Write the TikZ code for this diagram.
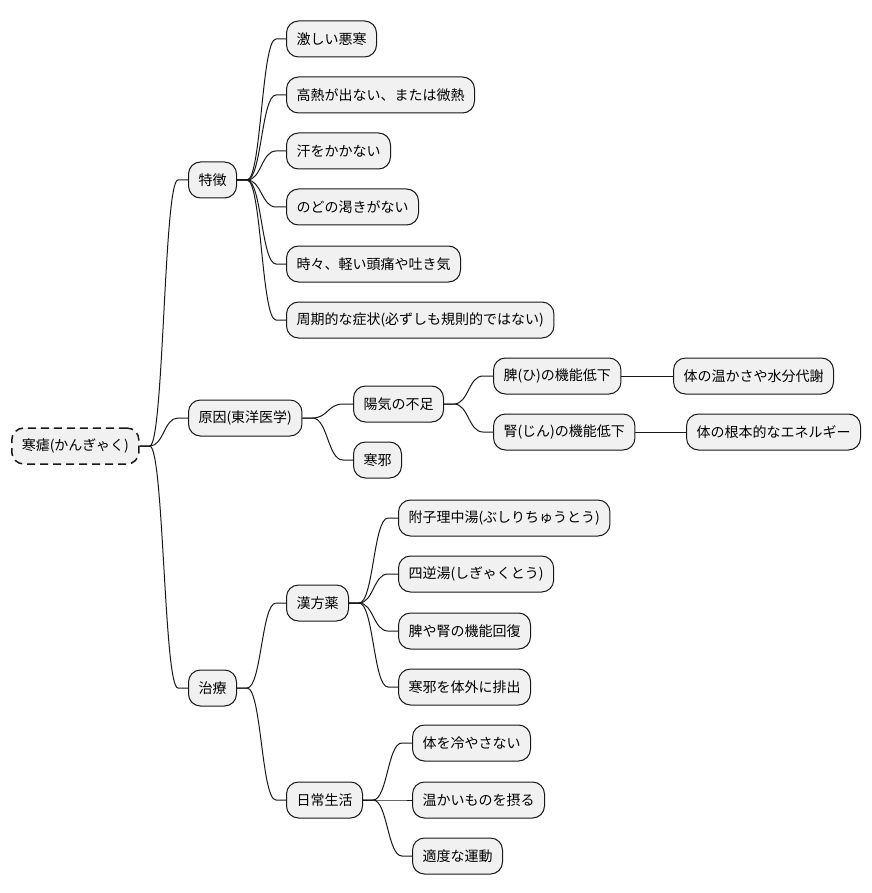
\documentclass[tikz,border=0pt]{standalone}
\usepackage{fontspec}
\setmainfont{Noto Sans CJK JP}
\usetikzlibrary{calc}
\definecolor{boxfill}{HTML}{F1F1F1}
\definecolor{boxline}{HTML}{181818}
\tikzset{
  mmbox/.style={draw=boxline, fill=boxfill, line width=1pt, rounded corners=12pt,
    minimum height=36pt, inner xsep=10pt, inner ysep=0pt, anchor=west,
    font=\fontsize{14}{16}\selectfont, text=black},
  rootbox/.style={mmbox, line width=1.5pt, dash pattern=on 8pt off 5pt},
  mmline/.style={draw=boxline, line width=1pt}
}
\newcommand\mmlink[2]{%
  \draw[mmline] let \p1=(#1.east), \p2=(#2.west), \n1={(\x1+\x2)/2} in
    (\p1) -- (\x1+10pt,\y1) .. controls (\n1,\y1) and (\n1,\y2) .. (\x2-10pt,\y2) -- (\p2);}
\begin{document}
\begin{tikzpicture}[x=1pt,y=-1pt]
\useasboundingbox (0,0) rectangle (871,893);
% root
\node[rootbox] (root) at (11,446) {寒瘧(かんぎゃく)};
% level 1
\node[mmbox] (toku) at (188,180) {特徴};
\node[mmbox] (gen) at (188,418) {原因(東洋医学)};
\node[mmbox] (chi) at (188,688) {治療};
% toku children
\node[mmbox] (t1) at (286,39) {激しい悪寒};
\node[mmbox] (t2) at (286,95) {高熱が出ない、または微熱};
\node[mmbox] (t3) at (286,151) {汗をかかない};
\node[mmbox] (t4) at (286,207) {のどの渇きがない};
\node[mmbox] (t5) at (286,264) {時々、軽い頭痛や吐き気};
\node[mmbox] (t6) at (286,320) {周期的な症状(必ずしも規則的ではない)};
% gen children
\node[mmbox] (g1) at (353,404) {陽気の不足};
\node[mmbox] (g2) at (353,460) {寒邪};
\node[mmbox] (g11) at (493,376) {脾(ひ)の機能低下};
\node[mmbox] (g12) at (493,432) {腎(じん)の機能低下};
\node[mmbox] (g111) at (673,376) {体の温かさや水分代謝};
\node[mmbox] (g121) at (686,432) {体の根本的なエネルギー};
% chi children
\node[mmbox] (c1) at (286,603) {漢方薬};
\node[mmbox] (c2) at (286,800) {日常生活};
\node[mmbox] (c11) at (398,518) {附子理中湯(ぶしりちゅうとう)};
\node[mmbox] (c12) at (398,574) {四逆湯(しぎゃくとう)};
\node[mmbox] (c13) at (398,631) {脾や腎の機能回復};
\node[mmbox] (c14) at (398,687) {寒邪を体外に排出};
\node[mmbox] (c21) at (412,743) {体を冷やさない};
\node[mmbox] (c22) at (412,800) {温かいものを摂る};
\node[mmbox] (c23) at (412,856) {適度な運動};
% links
\mmlink{root}{toku}
\mmlink{root}{gen}
\mmlink{root}{chi}
\foreach \c in {t1,t2,t3,t4,t5,t6} {\mmlink{toku}{\c}}
\mmlink{gen}{g1}
\mmlink{gen}{g2}
\mmlink{g1}{g11}
\mmlink{g1}{g12}
\draw[mmline] (g11.east) -- (g111.west);
\draw[mmline] (g12.east) -- (g121.west);
\mmlink{chi}{c1}
\mmlink{chi}{c2}
\foreach \c in {c11,c12,c13,c14} {\mmlink{c1}{\c}}
\foreach \c in {c21,c22,c23} {\mmlink{c2}{\c}}
\end{tikzpicture}
\end{document}
